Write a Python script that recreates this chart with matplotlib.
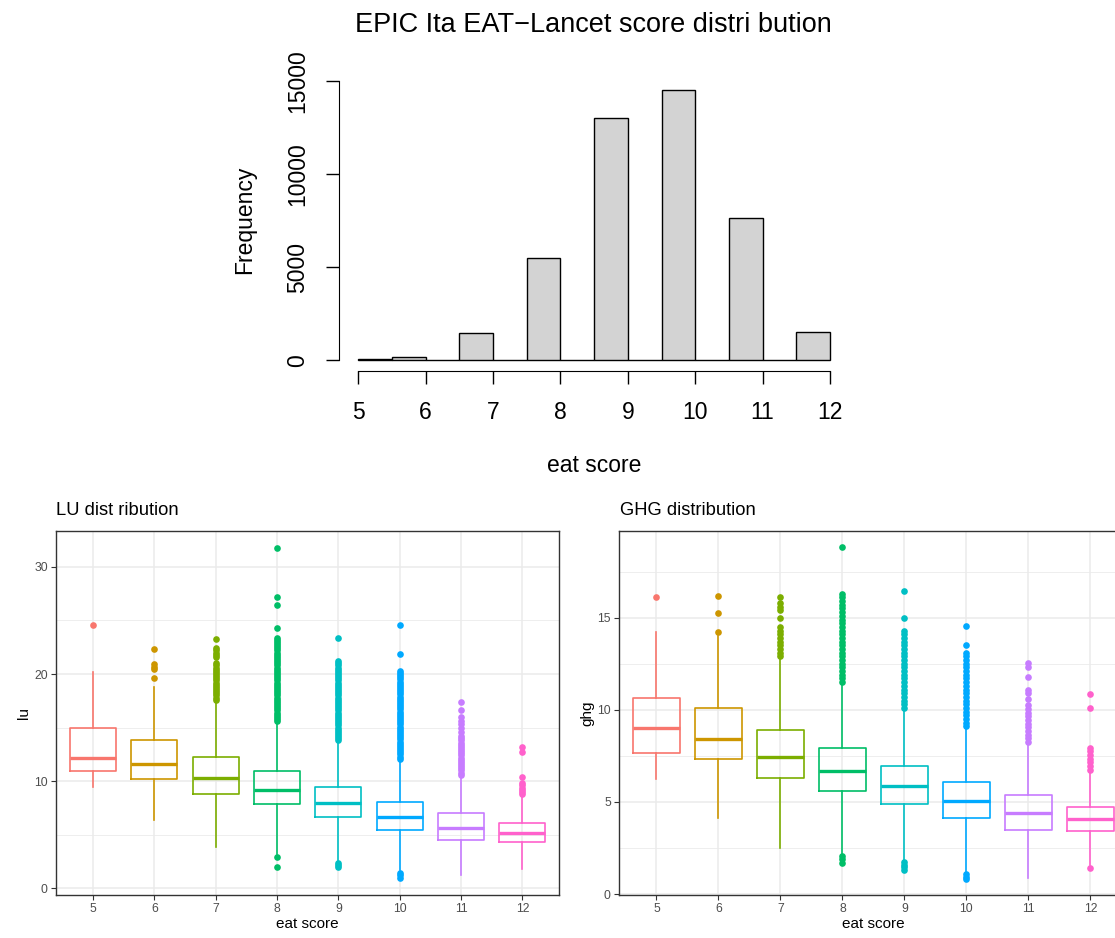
import matplotlib
matplotlib.use("Agg")
import numpy as np
import matplotlib.pyplot as plt

plt.rcParams['font.family'] = ['Liberation Sans', 'DejaVu Sans']

W, H = 1115, 938

# --- histogram of the EAT-Lancet score (bins of 0.5) ---
bin_edges = [5.0, 5.5, 6.0, 6.5, 7.0, 7.5, 8.0, 8.5, 9.0, 9.5, 10.0, 10.5, 11.0, 11.5, 12.0]
freq = [60, 190, 0, 1452, 0, 5484, 0, 13010, 0, 14516, 0, 7634, 0, 1540]
hist_yticks = [0, 5000, 10000, 15000]
hist_xticks = [5, 6, 7, 8, 9, 10, 11, 12]

# --- boxplot statistics by eat score ---
scores = [5, 6, 7, 8, 9, 10, 11, 12]
colors = ['#F8766D', '#CD9600', '#7CAE00', '#00BE67', '#00BFC4', '#00A9FF', '#C77CFF', '#FF61CC']

lu_q1 = [10.96, 10.16, 8.79, 7.83, 6.68, 5.43, 4.50, 4.29]
lu_med = [12.17, 11.65, 10.28, 9.16, 7.92, 6.68, 5.65, 5.19]
lu_q3 = [14.94, 13.88, 12.27, 10.93, 9.50, 8.07, 6.99, 6.06]
lu_lo = [9.47, 6.37, 3.88, 3.20, 2.50, 1.70, 1.24, 1.80]
lu_hi = [20.19, 18.79, 17.45, 15.50, 13.70, 12.00, 10.40, 8.60]
lu_out = [
    [24.6],
    [19.6, 20.5, 20.7, 20.9, 22.3],
    [17.6, 17.8, 18.0, 18.2, 18.4, 18.6, 18.8, 19.0, 19.2, 19.4, 19.6, 19.8, 20.0, 20.2,
     20.4, 20.6, 20.8, 21.0, 21.6, 21.8, 22.0, 22.2, 22.4, 23.3],
    [2.0, 2.95, 15.6, 15.8, 16.0, 16.2, 16.4, 16.6, 16.8, 17.0, 17.2, 17.4, 17.6, 17.8,
     18.0, 18.2, 18.4, 18.6, 18.8, 19.0, 19.2, 19.4, 19.6, 19.8, 20.0, 20.2, 20.4, 20.6,
     20.8, 21.0, 21.2, 21.4, 21.6, 21.8, 22.0, 22.2, 22.4, 22.6, 22.8, 23.0, 23.2, 23.4,
     24.3, 26.4, 27.2, 31.8],
    [1.95, 2.15, 2.35, 13.8, 14.0, 14.2, 14.4, 14.6, 14.8, 15.0, 15.2, 15.4, 15.6, 15.8,
     16.0, 16.2, 16.4, 16.6, 16.8, 17.0, 17.2, 17.4, 17.6, 17.8, 18.0, 18.2, 18.4, 18.6,
     18.8, 19.0, 19.2, 19.4, 19.6, 19.8, 20.0, 20.2, 20.4, 20.6, 20.8, 21.0, 21.2, 23.4],
    [0.95, 1.25, 1.45, 12.1, 12.3, 12.5, 12.7, 12.9, 13.1, 13.3, 13.5, 13.7, 13.9, 14.1,
     14.3, 14.5, 14.7, 14.9, 15.1, 15.3, 15.5, 15.7, 15.9, 16.1, 16.3, 16.5, 16.7, 16.9,
     17.1, 17.3, 17.5, 17.7, 17.9, 18.1, 18.3, 18.5, 18.7, 18.9, 19.1, 19.3, 19.5, 19.7,
     19.9, 20.1, 20.3, 21.9, 24.6],
    [10.6, 10.8, 11.0, 11.2, 11.4, 11.6, 11.8, 12.0, 12.2, 12.4, 12.6, 12.8, 13.0, 13.2,
     13.4, 13.6, 13.8, 14.0, 14.2, 14.6, 15.0, 15.3, 15.6, 16.0, 16.6, 17.4],
    [8.8, 9.0, 9.2, 9.4, 9.6, 9.8, 10.4, 12.7, 13.2],
]

ghg_q1 = [7.67, 7.35, 6.31, 5.61, 4.89, 4.11, 3.47, 3.44]
ghg_med = [9.01, 8.41, 7.45, 6.68, 5.86, 5.05, 4.38, 4.07]
ghg_q3 = [10.66, 10.08, 8.90, 7.94, 6.95, 6.08, 5.36, 4.74]
ghg_lo = [6.22, 4.11, 2.48, 2.15, 1.85, 1.20, 0.89, 1.60]
ghg_hi = [14.20, 14.00, 12.75, 11.40, 9.95, 9.00, 8.15, 6.65]
ghg_out = [
    [16.1],
    [14.2, 15.27, 16.16],
    [12.9, 13.1, 13.3, 13.5, 13.7, 13.9, 14.1, 14.3, 14.5, 15.0, 15.4, 15.6, 15.8, 16.1],
    [1.7, 1.9, 2.05, 11.5, 11.7, 11.9, 12.1, 12.3, 12.5, 12.7, 12.9, 13.1, 13.3, 13.5,
     13.7, 13.9, 14.1, 14.3, 14.5, 14.7, 14.9, 15.1, 15.3, 15.5, 15.7, 15.9, 16.1, 16.3,
     18.85],
    [1.3, 1.45, 1.6, 1.75, 10.1, 10.3, 10.5, 10.7, 10.9, 11.1, 11.3, 11.5, 11.7, 11.9,
     12.1, 12.3, 12.5, 12.7, 12.9, 13.1, 13.3, 13.5, 13.7, 13.9, 14.1, 14.3, 15.0, 16.45],
    [0.82, 0.95, 1.1, 9.1, 9.3, 9.5, 9.7, 9.9, 10.1, 10.3, 10.5, 10.7, 10.9, 11.1, 11.3,
     11.5, 11.7, 11.9, 12.1, 12.3, 12.5, 12.7, 12.9, 13.1, 13.5, 14.55],
    [8.25, 8.45, 8.65, 8.85, 9.05, 9.25, 9.45, 9.65, 9.85, 10.05, 10.25, 10.6, 10.9, 11.1,
     11.8, 12.3, 12.55],
    [1.39, 6.75, 6.95, 7.15, 7.35, 7.55, 7.75, 7.95, 10.1, 10.85],
]


def px_axes(fig, left, top, right, bottom):
    return fig.add_axes([left / W, 1 - bottom / H, (right - left) / W, (bottom - top) / H])


fig = plt.figure(figsize=(W / 100, H / 100), dpi=100)

# ---------------- top: base-R style histogram ----------------
ax = px_axes(fig, 358.3, 80.7, 830, 360.3)
bars = ax.bar(bin_edges[:-1], freq, width=np.diff(bin_edges), align='edge',
              color='#D3D3D3', edgecolor='black', linewidth=1.0)
for b in bars:
    b.set_clip_on(False)
ax.set_xlim(5, 12)
ax.set_ylim(0, 15000)
for s in ('top', 'right'):
    ax.spines[s].set_visible(False)
ax.spines['left'].set_position(('outward', 13.7))
ax.spines['bottom'].set_position(('outward', 7.5))
ax.spines['left'].set_bounds(0, 15000)
ax.spines['bottom'].set_bounds(5, 12)
ax.set_xticks(hist_xticks)
ax.set_yticks(hist_yticks)
ax.set_yticklabels([str(v) for v in hist_yticks], rotation=90, va='center')
ax.tick_params(length=9.5, width=1.0, labelsize=16.5, pad=12)
fig.text(593 / W, 1 - 25 / H, 'EPIC Ita EAT\u2212Lancet score distri bution',
         ha='center', va='center', fontsize=19.5)
fig.text(594 / W, 1 - 465 / H, 'eat score', ha='center', va='center', fontsize=16.5)
fig.text(245 / W, 1 - 220 / H, 'Frequency', ha='center', va='center',
         rotation=90, fontsize=16.5)


# ---------------- bottom: ggplot style boxplots ----------------
def box_panel(ax, q1, med, q3, lo, hi, out, ylim, major, minor, ylab, title, title_x):
    for i, sc in enumerate(scores):
        c = colors[i]
        st = dict(med=med[i], q1=q1[i], q3=q3[i], whislo=lo[i], whishi=hi[i], fliers=out[i])
        ax.bxp([st], positions=[sc], widths=0.75, showcaps=False,
               boxprops=dict(color=c, lw=1.2),
               whiskerprops=dict(color=c, lw=1.2),
               medianprops=dict(color=c, lw=2.4),
               flierprops=dict(marker='o', markersize=4.8, markerfacecolor=c,
                               markeredgecolor=c, markeredgewidth=0))
    ax.set_xlim(4.4, 12.6)
    ax.set_ylim(*ylim)
    ax.set_xticks(scores)
    ax.set_xticklabels([str(s) for s in scores])
    ax.set_yticks(major)
    ax.set_yticks(minor, minor=True)
    ax.grid(True, which='major', color='#EBEBEB', lw=1.1, zorder=0)
    ax.grid(True, which='minor', axis='y', color='#EBEBEB', lw=0.6, zorder=0)
    ax.set_axisbelow(True)
    for s in ax.spines.values():
        s.set_color('#333333')
        s.set_linewidth(1.0)
    ax.tick_params(which='major', length=3.8, width=0.8, color='#333333',
                   labelsize=8.8, labelcolor='#4D4D4D', pad=2.2)
    ax.tick_params(which='minor', length=0)
    ax.set_xlabel('eat score', fontsize=11, labelpad=1.5)
    ax.set_ylabel(ylab, fontsize=11, labelpad=2)
    fig.text(title_x / W, 1 - 510 / H, title, ha='left', va='center', fontsize=13.2)


ax1 = px_axes(fig, 56.1, 530.7, 559.3, 895)
box_panel(ax1, lu_q1, lu_med, lu_q3, lu_lo, lu_hi, lu_out, (-0.62, 33.38),
          [0, 10, 20, 30], [5, 15, 25], 'lu', 'LU dist ribution', 56)

ax2 = px_axes(fig, 619.2, 530.7, 1127.6, 895)
box_panel(ax2, ghg_q1, ghg_med, ghg_q3, ghg_lo, ghg_hi, ghg_out, (-0.05, 19.72),
          [0, 5, 10, 15], [2.5, 7.5, 12.5, 17.5], 'ghg', 'GHG distribution', 620)

fig.savefig('out.png', dpi=100)
